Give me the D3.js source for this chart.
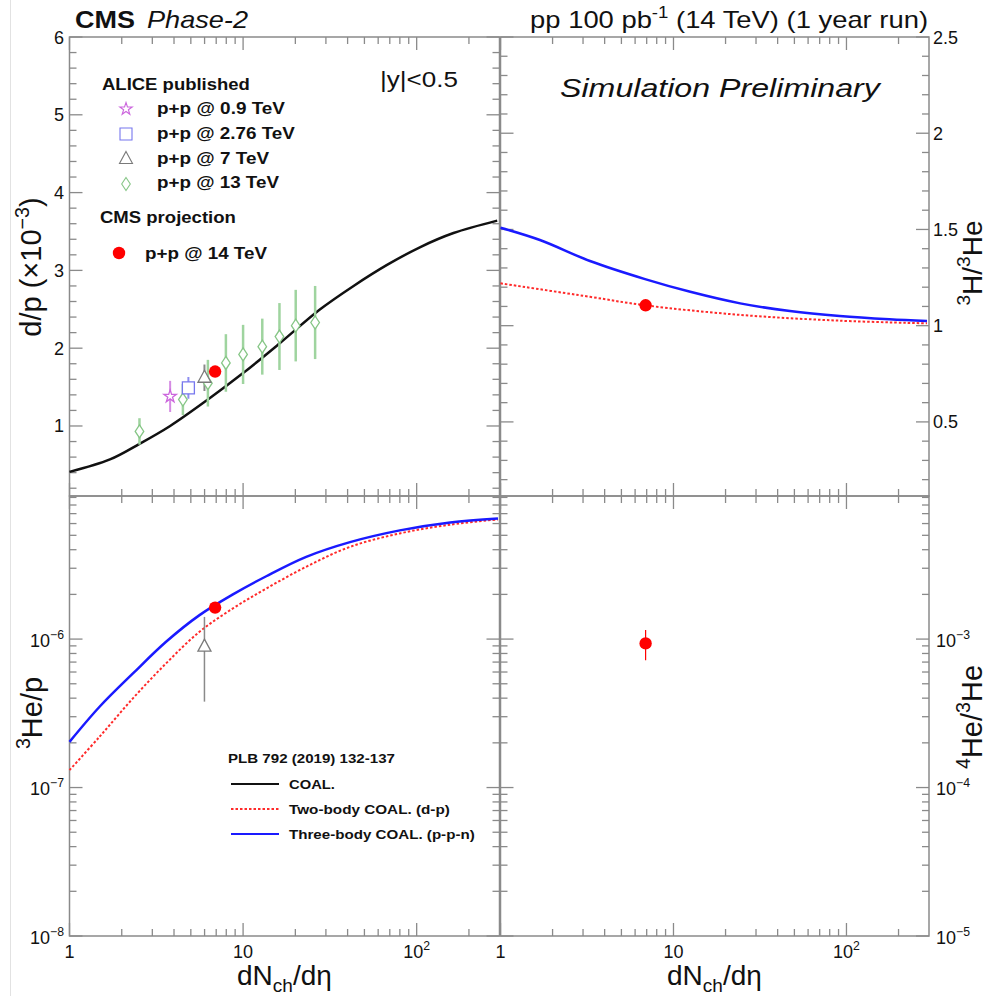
<!DOCTYPE html>
<html>
<head>
<meta charset="UTF-8">
<title>CMS Phase-2 light nuclei ratios</title>
<script src="https://d3js.org/d3.v7.min.js"></script>
<style>
  html, body { margin: 0; padding: 0; background: #fff; }
  svg text { font-family: 'Liberation Sans', Arial, Helvetica, sans-serif; fill: #111; }
</style>
</head>
<body>
<svg id="chart" width="990" height="996"></svg>
<script>
// ---- data ----
// ALICE pp 13 TeV, d/p (x1e-3)
const mult13 = [2.53, 4.50, 6.27, 7.96, 10.0, 12.9, 16.2, 20.1, 26.0];
const dp13 = [0.93, 1.34, 1.55, 1.81, 1.92, 2.02, 2.15, 2.29, 2.33];
const dp13Err = [0.17, 0.20, 0.30, 0.37, 0.38, 0.36, 0.43, 0.46, 0.47];
// ALICE pp 0.9, 2.76, 7 TeV
const mult09 = [3.80], dp09 = [1.38], dp09Err = [0.20];
const mult276 = [4.84], dp276 = [1.49], dp276Err = [0.14];
const mult7 = [5.99], dp7 = [1.62], dp7Err = [0.17];
const he3p7 = [8.9e-7], he3p7Hi = [1.41e-6], he3p7Lo = [3.79e-7];
// CMS projection pp 14 TeV
const cmsMult = [6.9];
const cmsDp = [1.70];
const cmsH3He3 = [1.106];
const cmsHe3p = [1.63e-6];
const cmsHe4He3 = [9.35e-4], cmsHe4He3Hi = [1.15e-3], cmsHe4He3Lo = [7.2e-4];

// model curves (PLB 792 (2019) 132-137)
const coalDpX = [1, 1.71, 2.53, 3.8, 6.27, 10, 16.2, 27.8, 43.3, 67.5, 105, 163, 291];
const coalDpY = [0.41, 0.57, 0.77, 1.0, 1.34, 1.68, 2.06, 2.50, 2.80, 3.07, 3.30, 3.48, 3.64];
const threeH3X = [1, 1.69, 3.29, 6.85, 12.5, 24.3, 47.1, 91.4, 177, 292];
const threeH3Y = [1.509, 1.445, 1.336, 1.242, 1.176, 1.116, 1.076, 1.05, 1.033, 1.024];
const twoH3X = [1, 3.29, 6.85, 24.3, 91.4, 292];
const twoH3Y = [1.22, 1.15, 1.106, 1.056, 1.026, 1.012];
const threeHe3X = [1, 1.49, 2.32, 3.6, 5.61, 8.74, 13.6, 23.1, 41.3, 80, 156, 294];
const threeHe3Y = [2.03e-7, 3.5e-7, 5.87e-7, 9.59e-7, 1.45e-6, 2.0e-6, 2.65e-6, 3.58e-6, 4.5e-6, 5.4e-6, 6.1e-6, 6.5e-6];
const twoHe3X = [1, 1.49, 2.32, 3.6, 5.61, 8.74, 13.6, 23.1, 41.3, 80, 156, 294];
const twoHe3Y = [1.31e-7, 2.2e-7, 3.99e-7, 6.86e-7, 1.12e-6, 1.61e-6, 2.19e-6, 3.07e-6, 4.18e-6, 5.15e-6, 5.9e-6, 6.4e-6];

// tick values
const dpTicks = [1, 2, 3, 4, 5, 6];
const ratioTicks = [0.5, 1, 1.5, 2, 2.5];
const xTickLabels = [[1, '1', null], [10, '10', null], [100, '10', '2']];

// ---- layout ----
const svg = d3.select('#chart');
const X0 = 69.5, XM = 499.5, X1 = 929, Y0 = 37, YM = 496, Y1 = 936;
const frameColor = '#8a8a8a';

const xL = d3.scaleLog().domain([1, 300]).range([X0, XM]);
const xR = d3.scaleLog().domain([1, 300]).range([XM + 1, X1]);
const yTL = d3.scaleLinear().domain([0.1, 6]).range([YM, Y0]);
const yTR = d3.scaleLinear().domain([0.115, 2.5]).range([YM, Y0]);
const yBL = d3.scaleLog().domain([1e-8, 9.2e-6]).range([Y1, YM]);
const yBR = d3.scaleLog().domain([1e-5, 9.2e-3]).range([Y1, YM]);

// faint image border on the left
svg.append('line').attr('x1', 10.5).attr('x2', 10.5).attr('y1', 0).attr('y2', 996)
  .attr('stroke', '#e2e2e2').attr('stroke-width', 1);

// text helper: parts are strings or [str, 'sup'|'sub']
function addText(parent, o) {
  const g = parent.append('g')
    .attr('transform', `translate(${o.x},${o.y})` + (o.rotate ? ` rotate(${o.rotate})` : ''));
  const t = g.append('text')
    .attr('font-size', o.size)
    .attr('text-anchor', o.anchor || 'start')
    .attr('font-weight', o.weight || 'normal')
    .attr('font-style', o.style || 'normal');
  let cur = 0;
  o.parts.forEach(p => {
    const s = typeof p === 'string' ? p : p[0];
    const kind = typeof p === 'string' ? null : p[1];
    const target = kind === 'sup' ? -o.size * 0.42 : kind === 'sub' ? o.size * 0.25 : 0;
    t.append('tspan').attr('dy', target - cur)
      .attr('font-size', kind ? o.size * 0.68 : o.size).text(s);
    cur = target;
  });
  if (o.width) {
    const w = t.node().getComputedTextLength();
    if (w > 0) t.attr('transform', `scale(${o.width / w},1)`);
  }
  return t;
}

function logMinors(scale) {
  const [a, b] = scale.domain();
  const out = [];
  for (let e = Math.floor(Math.log10(a)); e <= Math.ceil(Math.log10(b)); e++) {
    for (let k = 2; k <= 9; k++) {
      const v = k * Math.pow(10, e);
      if (v > a && v < b) out.push(v);
    }
  }
  return out;
}
function logMajors(scale) {
  const [a, b] = scale.domain();
  const out = [];
  for (let e = Math.ceil(Math.log10(a)); Math.pow(10, e) <= b; e++) out.push(Math.pow(10, e));
  return out;
}
function linMinors(scale, step, majors) {
  const [a, b] = scale.domain();
  const out = [];
  for (let v = Math.ceil(a / step) * step; v < b - 1e-9; v += step) {
    const r = Math.round(v * 1000) / 1000;
    if (!majors.some(m => Math.abs(m - r) < 1e-6)) out.push(r);
  }
  return out;
}

const MAJ = 13, MIN = 7;
function panel(xs, ys, yMaj, yMin) {
  const g = svg.append('g');
  const [l, r] = xs.range();
  const [b, t] = ys.range();
  const xMaj = logMajors(xs), xMin = logMinors(xs);
  const tick = (x1, y1, x2, y2) => g.append('line')
    .attr('x1', x1).attr('y1', y1).attr('x2', x2).attr('y2', y2)
    .attr('stroke', frameColor).attr('stroke-width', 1.3);
  xMaj.forEach(v => { const x = xs(v); tick(x, b, x, b - MAJ); tick(x, t, x, t + MAJ); });
  xMin.forEach(v => { const x = xs(v); tick(x, b, x, b - MIN); tick(x, t, x, t + MIN); });
  yMaj.forEach(v => { const y = ys(v); tick(l, y, l + MAJ, y); tick(r, y, r - MAJ, y); });
  yMin.forEach(v => { const y = ys(v); tick(l, y, l + MIN, y); tick(r, y, r - MIN, y); });
  g.append('rect').attr('x', l).attr('y', t).attr('width', r - l).attr('height', b - t)
    .attr('fill', 'none').attr('stroke', frameColor).attr('stroke-width', 1.5);
}

panel(xL, yTL, dpTicks, linMinors(yTL, 0.2, dpTicks));
panel(xR, yTR, ratioTicks, linMinors(yTR, 0.1, ratioTicks));
panel(xL, yBL, logMajors(yBL), logMinors(yBL));
panel(xR, yBR, logMajors(yBR), logMinors(yBR));

// ---- tick labels ----
const lab = svg.append('g');
const expo = v => '\u2212' + String(-Math.round(Math.log10(v)));
dpTicks.forEach(v => addText(lab, { x: 64, y: yTL(v) + 6.5, parts: [String(v)], size: 18, anchor: 'end' }));
ratioTicks.forEach(v => addText(lab, { x: 933, y: yTR(v) + 6.5, parts: [String(v)], size: 18 }));
logMajors(yBL).forEach(v => addText(lab, {
  x: 64, y: yBL(v) + 7.5, parts: ['10', [expo(v), 'sup']], size: 18, anchor: 'end'
}));
logMajors(yBR).forEach(v => addText(lab, {
  x: 936, y: yBR(v) + 7.5, parts: ['10', [expo(v), 'sup']], size: 18
}));
[xL, xR].forEach(xs => xTickLabels.forEach(([v, base, sup]) => addText(lab, {
  x: xs(v), y: 958, parts: sup ? [base, [sup, 'sup']] : [base], size: 18, anchor: 'middle'
})));

// ---- axis titles ----
addText(lab, { x: 41, y: 267, rotate: -90, anchor: 'middle', size: 29,
  parts: ['d/p (\u00d710', ['\u22123', 'sup'], ')'] });
addText(lab, { x: 982, y: 263, rotate: -90, anchor: 'middle', size: 28,
  parts: [['3', 'sup'], 'H/', ['3', 'sup'], 'He'] });
addText(lab, { x: 42, y: 713, rotate: -90, anchor: 'middle', size: 29,
  parts: [['3', 'sup'], 'He/p'] });
addText(lab, { x: 982, y: 717, rotate: -90, anchor: 'middle', size: 29,
  parts: [['4', 'sup'], 'He/', ['3', 'sup'], 'He'] });
[237, 667].forEach(x => addText(lab, { x: x, y: 985, size: 28,
  parts: ['dN', ['ch', 'sub'], '/d\u03b7'] }));

// ---- header texts ----
addText(lab, { x: 75, y: 28, size: 24, weight: 'bold', parts: ['CMS'], width: 60 });
addText(lab, { x: 147, y: 28, size: 24, style: 'italic', parts: ['Phase-2'], width: 101 });
addText(lab, { x: 928, y: 28, size: 24, anchor: 'end', width: 398,
  parts: ['pp 100 pb', ['-1', 'sup'], ' (14 TeV) (1 year run)'] });
addText(lab, { x: 560, y: 97, size: 25, style: 'italic', parts: ['Simulation Preliminary'], width: 320 });
addText(lab, { x: 380, y: 87, size: 22, parts: ['|y|<0.5'], width: 78 });

// ---- markers ----
const colStar = '#cc66dd', colSq = '#7777ee', colTri = '#7a7a7a', colDia = '#86c686', colRed = '#ff0000';
const plot = svg.append('g');

function errBar(xs, ys, x, lo, hi, color, w) {
  plot.append('line').attr('x1', xs(x)).attr('x2', xs(x)).attr('y1', ys(lo)).attr('y2', ys(hi))
    .attr('stroke', color).attr('stroke-width', w);
}
const shapes = {
  star: () => d3.symbol(d3.symbolStar, 48)(),
  square: () => 'M-6,-6H6V6H-6Z',
  tri: () => 'M0,-7.5L6.5,4.5H-6.5Z',
  dia: () => 'M0,-6.5L4.3,0L0,6.5L-4.3,0Z'
};
function marker(parent, px, py, shape, color, sw) {
  parent.append('path').attr('d', shapes[shape]()).attr('transform', `translate(${px},${py})`)
    .attr('fill', '#fff').attr('stroke', color).attr('stroke-width', sw || 1.3);
}
function dot(parent, px, py, r) {
  parent.append('circle').attr('cx', px).attr('cy', py).attr('r', r || 6.2).attr('fill', colRed);
}

// ---- model curves ----
const zip = (xa, ya) => xa.map((x, i) => [x, ya[i]]);
function curve(xs, ys, xa, ya, color, w, dash) {
  const line = d3.line().x(d => xs(d[0])).y(d => ys(d[1])).curve(d3.curveCatmullRom.alpha(0.5));
  plot.append('path').attr('d', line(zip(xa, ya))).attr('fill', 'none')
    .attr('stroke', color).attr('stroke-width', w).attr('stroke-dasharray', dash || null);
}
curve(xL, yTL, coalDpX, coalDpY, '#111', 2.5);
curve(xR, yTR, twoH3X, twoH3Y, '#ff2a2a', 2, '2.5,2');
curve(xR, yTR, threeH3X, threeH3Y, '#1a1aff', 2.5);
curve(xL, yBL, twoHe3X, twoHe3Y, '#ff2a2a', 2, '2.5,2');
curve(xL, yBL, threeHe3X, threeHe3Y, '#1a1aff', 2.5);

// top-left data points
mult13.forEach((x, i) => errBar(xL, yTL, x, dp13[i] - dp13Err[i], dp13[i] + dp13Err[i], '#9fd49f', 2.5));
mult09.forEach((x, i) => errBar(xL, yTL, x, dp09[i] - dp09Err[i], dp09[i] + dp09Err[i], '#d58be3', 2));
mult276.forEach((x, i) => errBar(xL, yTL, x, dp276[i] - dp276Err[i], dp276[i] + dp276Err[i], '#8d8df0', 2));
mult7.forEach((x, i) => errBar(xL, yTL, x, dp7[i] - dp7Err[i], dp7[i] + dp7Err[i], '#8a8a8a', 2));
mult13.forEach((x, i) => marker(plot, xL(x), yTL(dp13[i]), 'dia', colDia));
mult09.forEach((x, i) => marker(plot, xL(x), yTL(dp09[i]), 'star', colStar));
mult276.forEach((x, i) => marker(plot, xL(x), yTL(dp276[i]), 'square', colSq));
mult7.forEach((x, i) => marker(plot, xL(x), yTL(dp7[i]), 'tri', colTri));
cmsMult.forEach((x, i) => dot(plot, xL(x), yTL(cmsDp[i])));

// top-right
cmsMult.forEach((x, i) => dot(plot, xR(x), yTR(cmsH3He3[i])));

// bottom-left
mult7.forEach((x, i) => errBar(xL, yBL, x, he3p7Lo[i], he3p7Hi[i], '#8a8a8a', 1.5));
mult7.forEach((x, i) => marker(plot, xL(x), yBL(he3p7[i]), 'tri', colTri));
cmsMult.forEach((x, i) => dot(plot, xL(x), yBL(cmsHe3p[i])));

// bottom-right
cmsMult.forEach((x, i) => errBar(xR, yBR, x, cmsHe4He3Lo[i], cmsHe4He3Hi[i], colRed, 1.2));
cmsMult.forEach((x, i) => dot(plot, xR(x), yBR(cmsHe4He3[i])));

// ---- legend (top-left) ----
const leg = svg.append('g');
addText(leg, { x: 102, y: 90, size: 17, weight: 'bold', parts: ['ALICE published'], width: 148 });
const legRows = [
  { shape: 'star', color: colStar, label: 'p+p @ 0.9 TeV', y: 114, w: 128, my: 109 },
  { shape: 'square', color: colSq, label: 'p+p @ 2.76 TeV', y: 139, w: 138, my: 134 },
  { shape: 'tri', color: colTri, label: 'p+p @ 7 TeV', y: 164, w: 112, my: 159 },
  { shape: 'dia', color: colDia, label: 'p+p @ 13 TeV', y: 188, w: 122, my: 184 }
];
legRows.forEach(r => {
  marker(leg, 126, r.my, r.shape, r.color, 1.1);
  addText(leg, { x: 157, y: r.y, size: 16, weight: 'bold', parts: [r.label], width: r.w });
});
addText(leg, { x: 100, y: 223, size: 17, weight: 'bold', parts: ['CMS projection'], width: 136 });
dot(leg, 119, 253, 6.2);
addText(leg, { x: 145, y: 259, size: 16, weight: 'bold', parts: ['p+p @ 14 TeV'], width: 122 });

// ---- legend (bottom-left) ----
addText(leg, { x: 228, y: 763, size: 13.5, weight: 'bold', parts: ['PLB 792 (2019) 132-137'], width: 167 });
const modelRows = [
  { label: 'COAL.', color: '#111', dash: null, w: 46, y: 784 },
  { label: 'Two-body COAL. (d-p)', color: '#ff2a2a', dash: '2.5,2', w: 161, y: 809 },
  { label: 'Three-body COAL. (p-p-n)', color: '#1a1aff', dash: null, w: 186, y: 834 }
];
modelRows.forEach(r => {
  leg.append('line').attr('x1', 231).attr('x2', 279).attr('y1', r.y).attr('y2', r.y)
    .attr('stroke', r.color).attr('stroke-width', 2).attr('stroke-dasharray', r.dash);
  addText(leg, { x: 289, y: r.y + 5, size: 13.5, weight: 'bold', parts: [r.label], width: r.w });
});
</script>
</body>
</html>
